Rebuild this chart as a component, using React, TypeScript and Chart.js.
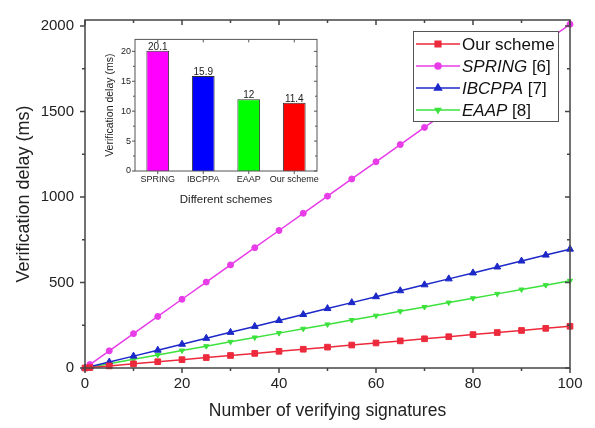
import React, { useEffect, useRef } from "react";
import { Chart, registerables } from "chart.js";

Chart.register(...registerables);

// ---------- data ----------
const signatureCounts = [0, 1, 5, 10, 15, 20, 25, 30, 35, 40, 45, 50, 55, 60, 65, 70, 75, 80, 85, 90, 95, 100];
const ourSchemeDelay = [0, 2.44, 12.2, 24.4, 36.6, 48.8, 61, 73.2, 85.4, 97.6, 109.8, 122, 134.2, 146.4, 158.6, 170.8, 183, 195.2, 207.4, 219.6, 231.8, 244];
const springDelay = [0, 20.1, 100.5, 201, 301.5, 402, 502.5, 603, 703.5, 804, 904.5, 1005, 1105.5, 1206, 1306.5, 1407, 1507.5, 1608, 1708.5, 1809, 1909.5, 2010];
const ibcppaDelay = [0, 6.95, 34.75, 69.5, 104.25, 139, 173.75, 208.5, 243.25, 278, 312.75, 347.5, 382.25, 417, 451.75, 486.5, 521.25, 556, 590.75, 625.5, 660.25, 695];
const eaapDelay = [0, 5.1, 25.5, 51, 76.5, 102, 127.5, 153, 178.5, 204, 229.5, 255, 280.5, 306, 331.5, 357, 382.5, 408, 433.5, 459, 484.5, 510];

const mainXTicks = [0, 20, 40, 60, 80, 100];
const mainXMinor = [10, 30, 50, 70, 90];
const mainYTicks = [0, 500, 1000, 1500, 2000];
const mainYMinor = [250, 750, 1250, 1750];

const legendNames = ["Our scheme", "SPRING", "IBCPPA", "EAAP"];
const legendRefs = ["", " [6]", " [7]", " [8]"];
const legendItalic = [false, true, true, true];

const insetSchemes = ["SPRING", "IBCPPA", "EAAP", "Our scheme"];
const insetDelays = [20.1, 15.9, 12, 11.4];
const insetValueLabels = ["20.1", "15.9", "12", "11.4"];
const insetYTicks = [0, 5, 10, 15, 20];
const insetYMinor = [2.5, 7.5, 12.5, 17.5];

// ---------- styles ----------
const FONT = "'Liberation Sans', Arial, Helvetica, sans-serif";
const TEXT = "#222";
const COLORS = {
  our: "#ec2a3c",
  spring: "#e83ce8",
  ibcppa: "#1c28c8",
  eaap: "#3ce23c",
};

const framePlugin = {
  id: "frame",
  afterDraw(chart: any, _args: any, o: any) {
    const { ctx, chartArea } = chart;
    const { left, right, top, bottom } = chartArea;
    const xs = chart.scales.x;
    const ys = chart.scales.y;
    ctx.save();
    ctx.strokeStyle = o.color;
    ctx.lineWidth = o.width;
    ctx.beginPath();
    const seg = (x1: number, y1: number, x2: number, y2: number) => {
      ctx.moveTo(x1, y1);
      ctx.lineTo(x2, y2);
    };
    (o.xMajor || []).forEach((v: number) => {
      const p = xs.getPixelForValue(v);
      seg(p, bottom, p, bottom + o.major);
      seg(p, top, p, top + o.major);
    });
    (o.xMinor || []).forEach((v: number) => {
      const p = xs.getPixelForValue(v);
      seg(p, bottom, p, bottom + o.minor);
      seg(p, top, p, top + o.minor);
    });
    (o.yMajor || []).forEach((v: number) => {
      const p = ys.getPixelForValue(v);
      seg(left - o.major, p, left, p);
      seg(right, p, right - o.major, p);
    });
    (o.yMinor || []).forEach((v: number) => {
      const p = ys.getPixelForValue(v);
      seg(left - o.minor, p, left, p);
      seg(right, p, right - o.minor, p);
    });
    ctx.stroke();
    ctx.strokeRect(left, top, right - left, bottom - top);
    ctx.restore();
  },
};

function drawMarker(ctx: CanvasRenderingContext2D, style: string, x: number, y: number, r: number, color: string) {
  ctx.save();
  ctx.fillStyle = color;
  ctx.strokeStyle = color;
  ctx.beginPath();
  if (style === "rect") {
    const s = r * Math.SQRT1_2;
    ctx.rect(x - s, y - s, 2 * s, 2 * s);
  } else if (style === "circle") {
    ctx.arc(x, y, r, 0, Math.PI * 2);
  } else if (style === "triangle") {
    ctx.moveTo(x, y - r);
    ctx.lineTo(x + r * 0.866, y + r * 0.5);
    ctx.lineTo(x - r * 0.866, y + r * 0.5);
    ctx.closePath();
  } else if (style === "triangleDown") {
    ctx.moveTo(x, y + r);
    ctx.lineTo(x + r * 0.866, y - r * 0.5);
    ctx.lineTo(x - r * 0.866, y - r * 0.5);
    ctx.closePath();
  }
  ctx.fill();
  ctx.stroke();
  ctx.restore();
}

const customLegendPlugin = {
  id: "customLegend",
  afterDraw(chart: any, _args: any, o: any) {
    const { ctx, chartArea } = chart;
    const boxW = o.width;
    const boxH = o.height;
    const bx = chartArea.right - o.offsetRight - boxW;
    const by = chartArea.top + o.offsetTop;
    ctx.save();
    ctx.fillStyle = "#fff";
    ctx.fillRect(bx, by, boxW, boxH);
    ctx.strokeStyle = "#555";
    ctx.lineWidth = 1;
    ctx.strokeRect(bx + 0.5, by + 0.5, boxW, boxH);
    chart.data.datasets.forEach((ds: any, i: number) => {
      const cy = by + o.firstRow + i * o.rowGap;
      ctx.strokeStyle = ds.borderColor;
      ctx.lineWidth = 1.5;
      ctx.beginPath();
      ctx.moveTo(bx + 3, cy);
      ctx.lineTo(bx + 47, cy);
      ctx.stroke();
      drawMarker(ctx, ds.legendMarker, bx + 25, cy, ds.legendRadius, ds.borderColor);
      let tx = bx + 49;
      ctx.fillStyle = "#111";
      ctx.textBaseline = "middle";
      ctx.textAlign = "left";
      ctx.font = `${legendItalic[i] ? "italic " : ""}${o.fontSize}px ${FONT}`;
      ctx.fillText(legendNames[i], tx, cy + 1);
      tx += ctx.measureText(legendNames[i]).width;
      if (legendRefs[i]) {
        ctx.font = `${o.fontSize}px ${FONT}`;
        ctx.fillText(legendRefs[i], tx, cy + 1);
      }
    });
    ctx.restore();
  },
};

const barLabelPlugin = {
  id: "barLabels",
  afterDatasetsDraw(chart: any, _args: any, o: any) {
    const { ctx } = chart;
    const meta = chart.getDatasetMeta(0);
    ctx.save();
    ctx.font = `${o.fontSize}px ${FONT}`;
    ctx.fillStyle = "#222";
    ctx.textAlign = "center";
    ctx.textBaseline = "alphabetic";
    meta.data.forEach((el: any, i: number) => {
      ctx.fillText(insetValueLabels[i], el.x, el.y - 1);
    });
    ctx.restore();
  },
};

function lineDataset(label: string, values: number[], color: string, style: string, radius: number, rotation: number, legendMarker: string, legendRadius: number) {
  return {
    label,
    data: signatureCounts.map((x, i) => ({ x, y: values[i] })),
    borderColor: color,
    backgroundColor: color,
    borderWidth: 1.5,
    pointStyle: style,
    pointRadius: radius,
    pointRotation: rotation,
    pointBorderWidth: 1,
    pointBackgroundColor: color,
    pointBorderColor: color,
    clip: false as any,
    legendMarker,
    legendRadius,
  };
}

const plainLabel = (v: any) => String(v);

export default function App() {
  const mainRef = useRef<HTMLCanvasElement>(null);
  const insetRef = useRef<HTMLCanvasElement>(null);

  useEffect(() => {
    const main = new Chart(mainRef.current!, {
      type: "line",
      data: {
        datasets: [
          lineDataset("Our scheme", ourSchemeDelay, COLORS.our, "rect", 4, 0, "rect", 4),
          lineDataset("SPRING [6]", springDelay, COLORS.spring, "circle", 3, 0, "circle", 3),
          lineDataset("IBCPPA [7]", ibcppaDelay, COLORS.ibcppa, "triangle", 4, 0, "triangle", 4),
          lineDataset("EAAP [8]", eaapDelay, COLORS.eaap, "triangle", 3, 180, "triangleDown", 3),
        ] as any,
      },
      options: {
        responsive: false,
        animation: false,
        devicePixelRatio: 1,
        layout: { padding: { top: 9, right: 25, left: 0, bottom: 0 } },
        plugins: {
          legend: { display: false },
          tooltip: { enabled: false },
          frame: { color: "#444", width: 1.5, major: 5, minor: 3, xMajor: mainXTicks, xMinor: mainXMinor, yMajor: mainYTicks, yMinor: mainYMinor },
          customLegend: { width: 145, height: 90, offsetRight: 12, offsetTop: 11, firstRow: 13, rowGap: 22, fontSize: 17 },
        } as any,
        scales: {
          x: {
            type: "linear",
            min: 0,
            max: 100,
            afterBuildTicks: (s: any) => {
              s.ticks = mainXTicks.map((v) => ({ value: v }));
            },
            afterFit: (s: any) => {
              s.height = 60;
            },
            grid: { display: false, drawTicks: false, tickLength: 0 },
            border: { display: false },
            ticks: { padding: 7, color: TEXT, maxRotation: 0, autoSkip: false, font: { size: 15, family: FONT }, callback: plainLabel },
            title: {
              display: true,
              text: "Number of verifying signatures",
              color: TEXT,
              font: { size: 17.5, family: FONT },
              padding: { top: 0, bottom: 6 },
            },
          },
          y: {
            type: "linear",
            min: 0,
            max: 2035,
            afterBuildTicks: (s: any) => {
              s.ticks = mainYTicks.map((v) => ({ value: v }));
            },
            afterFit: (s: any) => {
              s.width = 85;
            },
            grid: { display: false, drawTicks: false, tickLength: 0 },
            border: { display: false },
            ticks: { padding: 11, color: TEXT, font: { size: 15, family: FONT }, callback: plainLabel },
            title: {
              display: true,
              text: "Verification delay (ms)",
              color: TEXT,
              font: { size: 18, family: FONT },
              padding: { top: 13, bottom: 0 },
            },
          },
        },
      },
      plugins: [framePlugin, customLegendPlugin],
    });

    const inset = new Chart(insetRef.current!, {
      type: "bar",
      data: {
        labels: insetSchemes,
        datasets: [
          {
            data: insetDelays,
            backgroundColor: ["#ff00ff", "#0000ff", "#00ff00", "#ff0000"],
            borderColor: "#333",
            borderWidth: 1,
            categoryPercentage: 1,
            barPercentage: 0.5,
          },
        ],
      },
      options: {
        responsive: false,
        animation: false,
        devicePixelRatio: 1,
        layout: { padding: { top: 8, right: 13, left: 0, bottom: 0 } },
        plugins: {
          legend: { display: false },
          tooltip: { enabled: false },
          frame: { color: "#555", width: 1, major: 3, minor: 2, xMajor: [0, 1, 2, 3], xMinor: [], yMajor: insetYTicks, yMinor: insetYMinor },
          barLabels: { fontSize: 10 },
        } as any,
        scales: {
          x: {
            type: "category",
            offset: true,
            afterFit: (s: any) => {
              s.height = 44;
            },
            grid: { display: false, drawTicks: false, tickLength: 0 },
            border: { display: false },
            ticks: { padding: 3, color: TEXT, maxRotation: 0, autoSkip: false, font: { size: 9, family: FONT } },
            title: {
              display: true,
              text: "Different schemes",
              color: TEXT,
              font: { size: 11.5, family: FONT },
              padding: { top: 0, bottom: 8 },
            },
          },
          y: {
            type: "linear",
            min: 0,
            max: 22,
            afterBuildTicks: (s: any) => {
              s.ticks = insetYTicks.map((v) => ({ value: v }));
            },
            afterFit: (s: any) => {
              s.width = 35;
            },
            grid: { display: false, drawTicks: false, tickLength: 0 },
            border: { display: false },
            ticks: { padding: 4, color: TEXT, font: { size: 9, family: FONT }, callback: plainLabel },
            title: {
              display: true,
              text: "Verification delay (ms)",
              color: TEXT,
              font: { size: 10.5, family: FONT },
              padding: { top: 4, bottom: 0 },
            },
          },
        },
      },
      plugins: [framePlugin, barLabelPlugin],
    });

    return () => {
      main.destroy();
      inset.destroy();
    };
  }, []);

  return (
    <div style={{ position: "fixed", left: 0, top: 0, width: 595, height: 428, background: "#fff" }}>
      <canvas ref={mainRef} width={595} height={428} style={{ position: "absolute", left: 0, top: 0, width: 595, height: 428 }} />
      <canvas ref={insetRef} width={230} height={185} style={{ position: "absolute", left: 100, top: 30, width: 230, height: 185 }} />
    </div>
  );
}
